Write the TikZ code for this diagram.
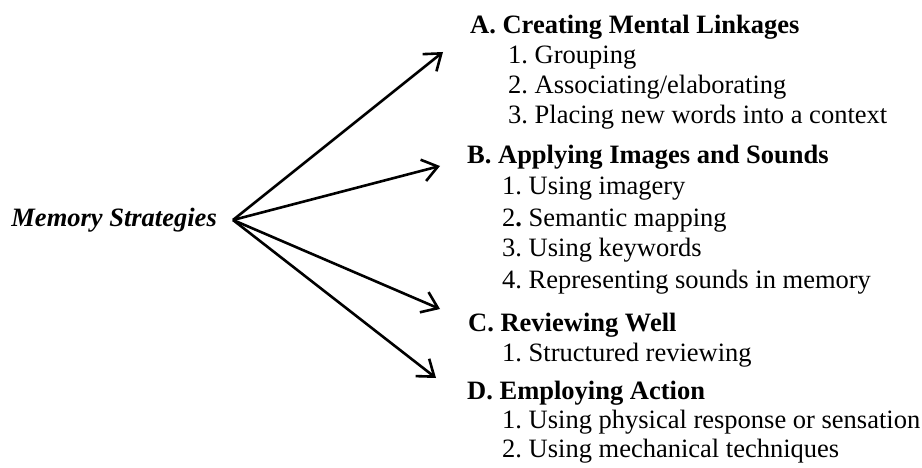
\documentclass[tikz,border=0pt]{standalone}
\usepackage{fontspec}
\setmainfont{Liberation Serif}
\usetikzlibrary{arrows.meta}
\frenchspacing
\tikzset{
  hdr/.style={anchor=base west,inner sep=0pt,font=\fontsize{26.5}{30}\selectfont\bfseries},
  itm/.style={anchor=base west,inner sep=0pt,font=\fontsize{26.5}{30}\selectfont},
  root/.style={anchor=base east,inner sep=0pt,font=\fontsize{26.5}{30}\selectfont\bfseries\itshape},
  branch/.style={line width=2.6pt,-{Straight Barb[length=15pt,width=22pt,line width=2.6pt]}}
}
\begin{document}
\begin{tikzpicture}[x=1pt,y=1pt]
\useasboundingbox (0,0) rectangle (922,-468);
% root and hub
\node[root] (mem) at (217,-227) {Memory Strategies};
\coordinate (hub) at (233,-220);
% group A
\node[hdr] (A) at (470,-34) {A. Creating Mental Linkages};
\node[itm] (A1) at (508,-64) {1. Grouping};
\node[itm] (A2) at (508,-94) {2. Associating/elaborating};
\node[itm] (A3) at (508,-124) {3. Placing new words into a context};
% group B
\node[hdr] (B) at (467,-164) {B. Applying Images and Sounds};
\node[itm] (B1) at (502,-195) {1. Using imagery};
\node[itm] (B2) at (502,-226) {2\textbf{.} Semantic mapping};
\node[itm] (B3) at (502,-257) {3. Using keywords};
\node[itm] (B4) at (502,-288) {4. Representing sounds in memory};
% group C
\node[hdr] (C) at (468,-331) {C. Reviewing Well};
\node[itm] (C1) at (502,-361) {1. Structured reviewing};
% group D
\node[hdr] (D) at (467,-399) {D. Employing Action};
\node[itm] (D1) at (502,-428) {1. Using physical response or sensation};
\node[itm] (D2) at (502,-457) {2. Using mechanical techniques};
% arrow tips
\coordinate (tipA) at (443,-52);
\coordinate (tipB) at (440,-166);
\coordinate (tipC) at (440,-309);
\coordinate (tipD) at (436,-378);
\foreach \t in {tipA,tipB,tipC,tipD}
  \draw[branch] (hub) -- (\t);
\end{tikzpicture}
\end{document}
